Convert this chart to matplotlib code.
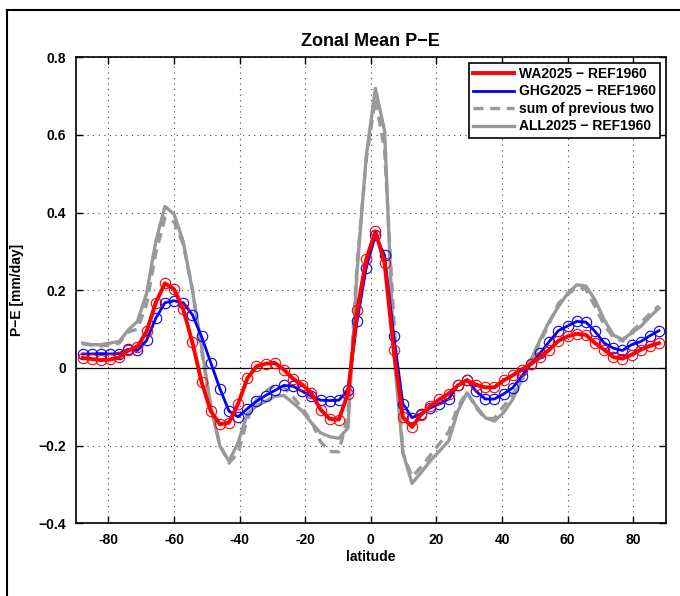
import matplotlib
matplotlib.use("Agg")
import matplotlib.pyplot as plt
from matplotlib.lines import Line2D

plt.rcParams['font.family'] = ['Liberation Sans', 'DejaVu Sans']
plt.rcParams['font.weight'] = 'bold'

# T42 Gaussian latitudes (south to north)
lat_north = [1.3953, 4.1859, 6.9765, 9.7671, 12.5578, 15.3484, 18.1390, 20.9296,
             23.7202, 26.5108, 29.3014, 32.0919, 34.8825, 37.6731, 40.4636, 43.2542,
             46.0447, 48.8352, 51.6257, 54.4162, 57.2066, 59.9970, 62.7874, 65.5776,
             68.3678, 71.1578, 73.9475, 76.7369, 79.5256, 82.3129, 85.0965, 87.8638]
lat = [-v for v in reversed(lat_north)] + lat_north

wa = [0.026, 0.023, 0.020, 0.022, 0.027, 0.045, 0.055, 0.094, 0.168, 0.218, 0.203,
      0.151, 0.066, -0.036, -0.111, -0.145, -0.141, -0.092, -0.027, 0.004, 0.011,
      0.013, -0.004, -0.028, -0.043, -0.064, -0.107, -0.131, -0.133, -0.066, 0.148,
      0.280, 0.352, 0.271, 0.045, -0.127, -0.152, -0.120, -0.098, -0.081, -0.066,
      -0.045, -0.032, -0.043, -0.050, -0.050, -0.032, -0.019, -0.004, 0.010, 0.028,
      0.047, 0.070, 0.081, 0.088, 0.085, 0.064, 0.047, 0.028, 0.024, 0.034, 0.047,
      0.057, 0.064]

ghg = [0.036, 0.036, 0.037, 0.036, 0.037, 0.048, 0.045, 0.071, 0.128, 0.168, 0.173,
       0.168, 0.137, 0.081, 0.014, -0.053, -0.111, -0.126, -0.105, -0.086, -0.071,
       -0.058, -0.045, -0.047, -0.060, -0.073, -0.083, -0.084, -0.083, -0.057, 0.121,
       0.258, 0.342, 0.290, 0.083, -0.092, -0.128, -0.118, -0.103, -0.092, -0.080,
       -0.045, -0.030, -0.060, -0.080, -0.080, -0.067, -0.051, -0.021, 0.011, 0.038,
       0.068, 0.096, 0.108, 0.120, 0.118, 0.094, 0.064, 0.051, 0.045, 0.060, 0.068,
       0.083, 0.096]

sum_two = [0.062, 0.059, 0.057, 0.058, 0.064, 0.093, 0.100, 0.165, 0.296, 0.386, 0.376,
           0.319, 0.203, 0.045, -0.097, -0.198, -0.245, -0.218, -0.132, -0.082, -0.060,
           -0.045, -0.049, -0.075, -0.103, -0.137, -0.190, -0.215, -0.216, -0.123, 0.269,
           0.538, 0.694, 0.561, 0.128, -0.219, -0.280, -0.255, -0.225, -0.195, -0.165,
           -0.100, -0.062, -0.103, -0.130, -0.130, -0.099, -0.070, -0.025, 0.021, 0.066,
           0.115, 0.166, 0.189, 0.208, 0.203, 0.158, 0.111, 0.079, 0.069, 0.094, 0.115,
           0.140, 0.160]

all_ = [0.064, 0.060, 0.060, 0.064, 0.068, 0.098, 0.120, 0.192, 0.325, 0.416, 0.396,
        0.325, 0.201, 0.055, -0.098, -0.201, -0.240, -0.192, -0.118, -0.098, -0.086,
        -0.073, -0.071, -0.090, -0.111, -0.141, -0.167, -0.177, -0.181, -0.155, 0.250,
        0.545, 0.720, 0.611, 0.040, -0.218, -0.297, -0.269, -0.239, -0.214, -0.188,
        -0.111, -0.064, -0.098, -0.128, -0.137, -0.115, -0.081, -0.030, 0.021, 0.073,
        0.120, 0.158, 0.192, 0.214, 0.211, 0.175, 0.124, 0.085, 0.073, 0.090, 0.107,
        0.132, 0.154]

labels = ['WA2025 \u2212 REF1960', 'GHG2025 \u2212 REF1960', 'sum of previous two',
          'ALL2025 \u2212 REF1960']
xticks = [-80, -60, -40, -20, 0, 20, 40, 60, 80]
yticks = [-0.4, -0.2, 0, 0.2, 0.4, 0.6, 0.8]

fig = plt.figure(figsize=(6.8, 5.96), dpi=100)
ax = fig.add_axes([0.1113, 0.1220, 0.8681, 0.7819])

gray = '#999999'
l4, = ax.plot(lat, all_, color=gray, lw=2.4, zorder=2)
l3, = ax.plot(lat, sum_two, color=gray, lw=2.4, ls=(0, (3, 2)), zorder=2)
ax.plot(lat, [0] * len(lat), color='black', lw=0.9, zorder=2.5)
l2, = ax.plot(lat, ghg, color='#0000ff', lw=2.0, zorder=3)
ax.plot(lat, ghg, ls='none', marker='o', ms=7.5, mfc='none', mec='#0000ff', mew=0.8, zorder=3)
l1, = ax.plot(lat, wa, color='#ff0000', lw=2.8, zorder=4)
ax.plot(lat, wa, ls='none', marker='o', ms=7.5, mfc='none', mec='#ff0000', mew=0.8, zorder=4)

ax.set_xlim(-90, 90)
ax.set_ylim(-0.4, 0.8)
ax.set_xticks(xticks)
ax.set_yticks(yticks)
ax.set_xticklabels([str(t) for t in xticks])
ax.set_yticklabels(['\u22120.4', '\u22120.2', '0', '0.2', '0.4', '0.6', '0.8'])
ax.tick_params(direction='in', length=5, width=1, top=True, right=True,
               labelsize=10, pad=7)
for lab in ax.get_xticklabels() + ax.get_yticklabels():
    lab.set_fontweight('bold')
for s in ax.spines.values():
    s.set_linewidth(1.2)
ax.grid(True, ls=(0, (1, 4)), color='#444444', lw=0.8)
ax.set_axisbelow(True)

ax.set_title('Zonal Mean P\u2212E', fontsize=13, fontweight='bold', pad=8)
ax.set_xlabel('latitude', fontsize=10, fontweight='bold', labelpad=2)
ax.set_ylabel('P\u2212E [mm/day]', fontsize=10, fontweight='bold', labelpad=10)

leg = ax.legend([l1, l2, l3, l4], labels, loc='upper right',
                prop={'weight': 'bold', 'size': 10}, frameon=True, fancybox=False,
                framealpha=1, edgecolor='black', borderpad=0.3, labelspacing=0.25,
                handlelength=2.9, handletextpad=0.4, borderaxespad=0.4)
leg.get_frame().set_linewidth(1.2)

# outer figure frame (left and top edges visible)
fig.add_artist(Line2D([7 / 680, 7 / 680], [0, 1 - 10 / 596], color='black', lw=1.5,
                      transform=fig.transFigure))
fig.add_artist(Line2D([7 / 680, 1], [1 - 10 / 596, 1 - 10 / 596], color='black', lw=1.5,
                      transform=fig.transFigure))

fig.savefig('out.png', dpi=100)
